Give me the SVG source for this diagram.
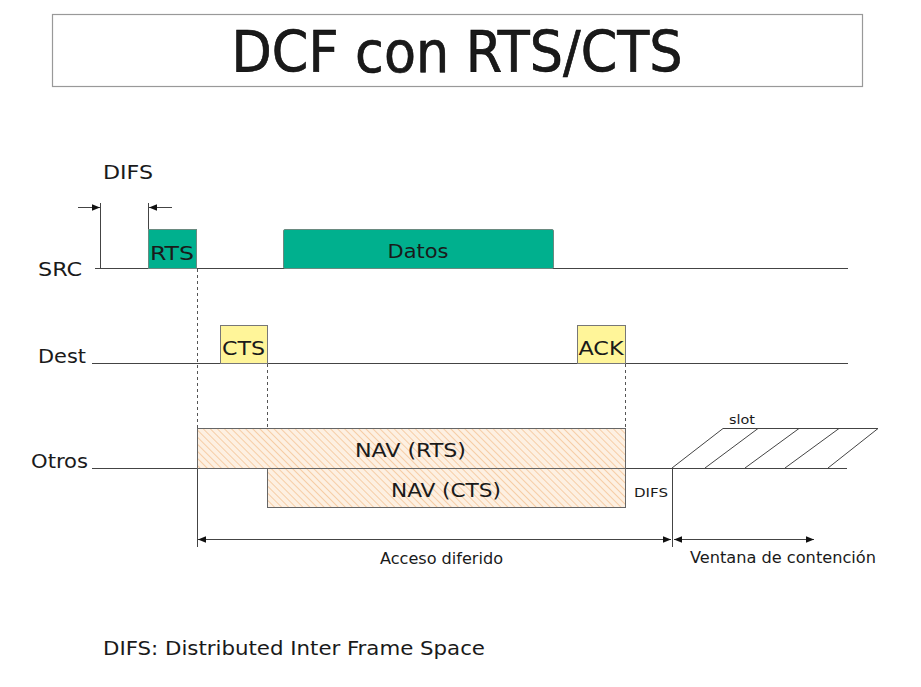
<svg xmlns="http://www.w3.org/2000/svg" width="921" height="687" viewBox="0 0 921 687">
<defs>
<style>
.t{font-family:"DejaVu Sans Condensed","DejaVu Sans",sans-serif;fill:#1a1a1a}
.ln{stroke:#444;stroke-width:1;fill:none}
.dash{stroke:#555;stroke-width:1;stroke-dasharray:3,3;fill:none}
.green{fill:#00B08E;stroke:#6a8a80;stroke-width:1}
.yellow{fill:#FFF599;stroke:#777;stroke-width:1}
.nav{fill:url(#hatch);stroke:#666;stroke-width:1}
</style>
<pattern id="hatch" patternUnits="userSpaceOnUse" width="5" height="5" patternTransform="rotate(-45)">
<rect width="5" height="5" fill="#FDF0E2"/>
<line x1="0" y1="0" x2="0" y2="5" stroke="#F6CDA6" stroke-width="2"/>
</pattern>
<marker id="ah" viewBox="0 0 10 10" refX="10" refY="5" markerWidth="10" markerHeight="8" markerUnits="userSpaceOnUse" orient="auto-start-reverse">
<path d="M0,1 L10,5 L0,9 z" fill="#111"/>
</marker>
</defs>
<rect width="921" height="687" fill="#fff"/>
<g id="title">
<rect x="52.5" y="14.5" width="810" height="72" fill="#fff" stroke="#999" stroke-width="1.2"/>
<text class="t" x="457" y="72" font-size="57" text-anchor="middle" textLength="451" lengthAdjust="spacingAndGlyphs" fill="#000" stroke="#000" stroke-width="0.6">DCF con RTS/CTS</text>
</g>
<g id="labels">
<text class="t" x="38" y="276" font-size="20" textLength="44" lengthAdjust="spacingAndGlyphs">SRC</text>
<text class="t" x="38" y="363" font-size="20" textLength="48" lengthAdjust="spacingAndGlyphs">Dest</text>
<text class="t" x="31" y="468" font-size="20" textLength="57" lengthAdjust="spacingAndGlyphs">Otros</text>
<text class="t" x="103" y="179" font-size="20" textLength="50" lengthAdjust="spacingAndGlyphs">DIFS</text>
<text class="t" x="103" y="655" font-size="20" textLength="382" lengthAdjust="spacingAndGlyphs">DIFS: Distributed Inter Frame Space</text>
</g>
<g id="connectors">
<line class="ln" x1="95" y1="268.5" x2="848" y2="268.5"/>
<line class="ln" x1="92" y1="363.5" x2="848" y2="363.5"/>
<line class="ln" x1="92" y1="468.5" x2="847" y2="468.5"/>
<line class="ln" x1="100.5" y1="203" x2="100.5" y2="268"/>
<line class="ln" x1="148.5" y1="203" x2="148.5" y2="229"/>
<line class="ln" x1="78" y1="207.5" x2="100" y2="207.5" marker-end="url(#ah)"/>
<line class="ln" x1="172" y1="207.5" x2="149" y2="207.5" marker-end="url(#ah)"/>
<line class="dash" x1="197.5" y1="269" x2="197.5" y2="428"/>
<line class="dash" x1="267.5" y1="364" x2="267.5" y2="428"/>
<line class="dash" x1="625.5" y1="364" x2="625.5" y2="428"/>
<line class="ln" x1="197.5" y1="468" x2="197.5" y2="547"/>
<line class="ln" x1="672.5" y1="468" x2="672.5" y2="547"/>
<line class="ln" x1="198" y1="539.5" x2="671" y2="539.5" marker-start="url(#ah)" marker-end="url(#ah)"/>
<line class="ln" x1="674" y1="539.5" x2="814" y2="539.5" marker-start="url(#ah)" marker-end="url(#ah)"/>
</g>
<g id="slots">
<line class="ln" x1="723" y1="428.5" x2="878" y2="428.5"/>
<line class="ln" x1="672" y1="468" x2="723" y2="428.5"/>
<line class="ln" x1="705" y1="468" x2="758" y2="428.5"/>
<line class="ln" x1="745" y1="468" x2="799" y2="428.5"/>
<line class="ln" x1="785" y1="468" x2="839" y2="428.5"/>
<line class="ln" x1="828" y1="468" x2="878" y2="428.5"/>
<text class="t" x="729" y="424" font-size="12" textLength="26" lengthAdjust="spacingAndGlyphs">slot</text>
</g>
<g id="rts">
<rect class="green" x="148.5" y="229.5" width="48" height="39"/>
<text class="t" x="172" y="260" font-size="20" text-anchor="middle" textLength="44" lengthAdjust="spacingAndGlyphs">RTS</text>
</g>
<g id="datos">
<rect class="green" x="283.5" y="229.5" width="270" height="39" rx="1.5"/>
<text class="t" x="418" y="258" font-size="20" text-anchor="middle" textLength="61" lengthAdjust="spacingAndGlyphs">Datos</text>
</g>
<g id="cts">
<rect class="yellow" x="220.5" y="325.5" width="47" height="38"/>
<text class="t" x="243.5" y="355" font-size="20" text-anchor="middle" textLength="43" lengthAdjust="spacingAndGlyphs">CTS</text>
</g>
<g id="ack">
<rect class="yellow" x="577.5" y="325.5" width="48" height="38"/>
<text class="t" x="601" y="355" font-size="20" text-anchor="middle" textLength="45" lengthAdjust="spacingAndGlyphs">ACK</text>
</g>
<g id="nav-rts">
<rect class="nav" x="197.5" y="428.5" width="428" height="40"/>
<text class="t" x="410.5" y="457" font-size="20" text-anchor="middle" textLength="111" lengthAdjust="spacingAndGlyphs">NAV (RTS)</text>
</g>
<g id="nav-cts">
<rect class="nav" x="267.5" y="468.5" width="358" height="39"/>
<text class="t" x="446" y="497" font-size="20" text-anchor="middle" textLength="110" lengthAdjust="spacingAndGlyphs">NAV (CTS)</text>
</g>
<g id="annotations">
<text class="t" x="634" y="497" font-size="13" textLength="34" lengthAdjust="spacingAndGlyphs">DIFS</text>
<text class="t" x="441.5" y="564" font-size="16" text-anchor="middle" textLength="123" lengthAdjust="spacingAndGlyphs">Acceso diferido</text>
<text class="t" x="690" y="563" font-size="16" textLength="186" lengthAdjust="spacingAndGlyphs">Ventana de contención</text>
</g>
</svg>
